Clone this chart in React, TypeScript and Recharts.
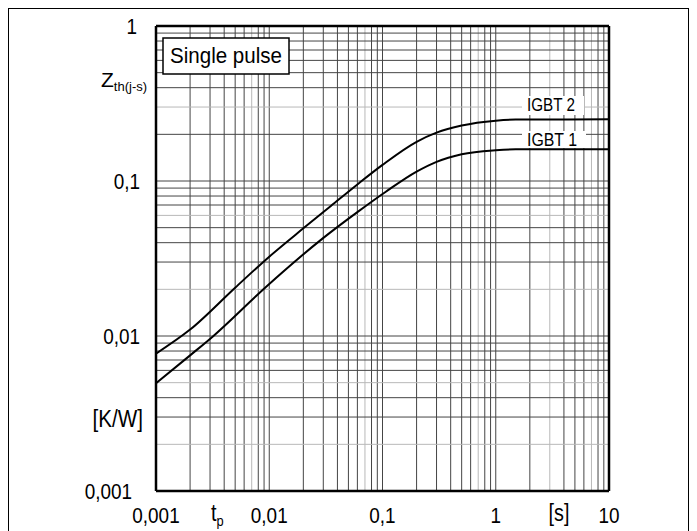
import { LineChart, Line, XAxis, YAxis, ReferenceLine } from "recharts";

// pulse duration [s] and transient thermal impedance [K/W]
const igbt2Time = [0.001, 0.002, 0.005, 0.01, 0.02, 0.035, 0.06, 0.1, 0.2, 0.3, 0.5, 1, 1.5, 10];
const igbt2Zth = [0.0077, 0.011, 0.0205, 0.0325, 0.0495, 0.069, 0.095, 0.127, 0.179, 0.205, 0.228, 0.245, 0.249, 0.25];

const igbt1Time = [0.001, 0.002, 0.00316, 0.0094, 0.0295, 0.06, 0.107, 0.2, 0.3, 0.5, 1, 1.5, 10];
const igbt1Zth = [0.00495, 0.0075, 0.0099, 0.0208, 0.0425, 0.063, 0.0853, 0.115, 0.133, 0.149, 0.158, 0.16, 0.16];

const xTicks = [0.001, 0.01, 0.1, 1, 10];
const yTicks = [0.001, 0.01, 0.1, 1];
const xDecades = [0.001, 0.01, 0.1, 1];
const yDecades = [0.001, 0.01, 0.1];
const steps = [2, 3, 4, 5, 6, 7, 8, 9];

const igbt2 = igbt2Time.map((t, i) => ({ t, z: igbt2Zth[i] }));
const igbt1 = igbt1Time.map((t, i) => ({ t, z: igbt1Zth[i] }));

const FONT = "'Liberation Sans', Arial, Helvetica, sans-serif";
const DARK = "#454545";
const LIGHT = "#b8b8b8";
const SQUEEZE = 0.86;

const gridLines = (decades: number[]) => {
  const out: { v: number; k: number; d: number }[] = [];
  decades.forEach((d) => {
    if (d !== decades[0]) out.push({ v: d, k: 1, d });
    steps.forEach((k) => out.push({ v: Number((k * d).toPrecision(3)), k, d }));
  });
  return out;
};
const xGrid = gridLines(xDecades);
const yGrid = gridLines(yDecades);
const lightX = (k: number, d: number) => k === 7 || (k === 3 && d === 1);
const lightY = (v: number) => [0.3, 0.06, 0.02, 0.005, 0.002].includes(v);

const fmt = (v: number) => String(v).replace(".", ",");

// condensed text, like the datasheet lettering
const Narrow = ({ x, y, anchor = "start", size = 22, children }: any) => (
  <g transform={`translate(${x},${y}) scale(${SQUEEZE},1)`}>
    <text x={0} y={0} textAnchor={anchor} fontSize={size} fontFamily={FONT} fill="#000">
      {children}
    </text>
  </g>
);

const XTick = (props: any) => {
  const { x, y, payload } = props;
  return (
    <Narrow x={x} y={y + 32} anchor="middle">
      {fmt(payload.value)}
    </Narrow>
  );
};

const yOffsets: Record<string, number> = { "1": 19, "0.1": 16, "0.01": 16, "0.001": 24 };

const YTick = (props: any) => {
  const { x, y, payload } = props;
  const off = yOffsets[String(payload.value)] ?? 16;
  return (
    <Narrow x={x - off} y={y + 8} anchor="end">
      {fmt(payload.value)}
    </Narrow>
  );
};

export default function App() {
  return (
    <div style={{ position: "relative", width: 681, height: 523 }}>
      <style>{`html,body{overflow:hidden}`}</style>
      <div
        style={{
          position: "absolute",
          left: 0,
          top: 0,
          width: 681,
          height: 523,
          boxSizing: "border-box",
          borderLeft: "1px solid #000",
          borderTop: "1px solid #000",
          borderRight: "1px solid #000",
        }}
      />
      <LineChart width={681} height={523} margin={{ top: 18, right: 80, bottom: 10, left: 88 }}>
        <XAxis
          dataKey="t"
          type="number"
          scale="log"
          domain={[0.001, 10]}
          allowDataOverflow
          ticks={xTicks}
          tick={<XTick />}
          tickLine={false}
          axisLine={false}
          tickSize={0}
          tickMargin={0}
          height={30}
        />
        <YAxis
          dataKey="z"
          type="number"
          scale="log"
          domain={[0.001, 1]}
          allowDataOverflow
          ticks={yTicks}
          tick={<YTick />}
          tickLine={false}
          axisLine={false}
          tickSize={0}
          tickMargin={0}
          width={60}
        />
        {xGrid.map((g) => (
          <ReferenceLine key={"x" + g.v} x={g.v} stroke={lightX(g.k, g.d) ? LIGHT : DARK} strokeWidth={1} />
        ))}
        {yGrid.map((g) => (
          <ReferenceLine key={"y" + g.v} y={g.v} stroke={lightY(g.v) ? LIGHT : DARK} strokeWidth={1} />
        ))}
        <ReferenceLine x={0.001} stroke="#000" strokeWidth={2.5} />
        <ReferenceLine x={10} stroke="#000" strokeWidth={2.5} />
        <ReferenceLine y={0.001} stroke="#000" strokeWidth={2.5} />
        <ReferenceLine y={1} stroke="#000" strokeWidth={2.5} />
        <Line data={igbt2} dataKey="z" type="monotone" stroke="#000" strokeWidth={2} dot={false} isAnimationActive={false} />
        <Line data={igbt1} dataKey="z" type="monotone" stroke="#000" strokeWidth={2} dot={false} isAnimationActive={false} />
      </LineChart>
      <svg
        width={681}
        height={523}
        style={{ position: "absolute", left: 0, top: 0, pointerEvents: "none" }}
        fontFamily={FONT}
        fill="#000"
      >
        <rect x={155} y={30} width={126} height={36} fill="#fff" stroke="#000" strokeWidth={1.5} />
        <text x={218} y={55} textAnchor="middle" fontSize={22} textLength={112} lengthAdjust="spacingAndGlyphs">
          Single pulse
        </text>
        <text x={93} y={79} fontSize={21}>
          Z
          <tspan fontSize={13} dy={4}>th(j-s)</tspan>
        </text>
        <Narrow x={135} y={419} anchor="end" size={24}>
          [K/W]
        </Narrow>
        <Narrow x={203} y={513} size={23}>
          t<tspan fontSize={15} dy={5}>p</tspan>
        </Narrow>
        <Narrow x={551} y={513} anchor="middle" size={23}>
          [s]
        </Narrow>
        <rect x={514} y={88} width={62} height={19} fill="#fff" />
        <text x={519} y={103} fontSize={19} textLength={48} lengthAdjust="spacingAndGlyphs">
          IGBT 2
        </text>
        <rect x={514} y={123} width={64} height={17} fill="#fff" />
        <text x={519} y={138} fontSize={19} textLength={50} lengthAdjust="spacingAndGlyphs">
          IGBT 1
        </text>
      </svg>
    </div>
  );
}
